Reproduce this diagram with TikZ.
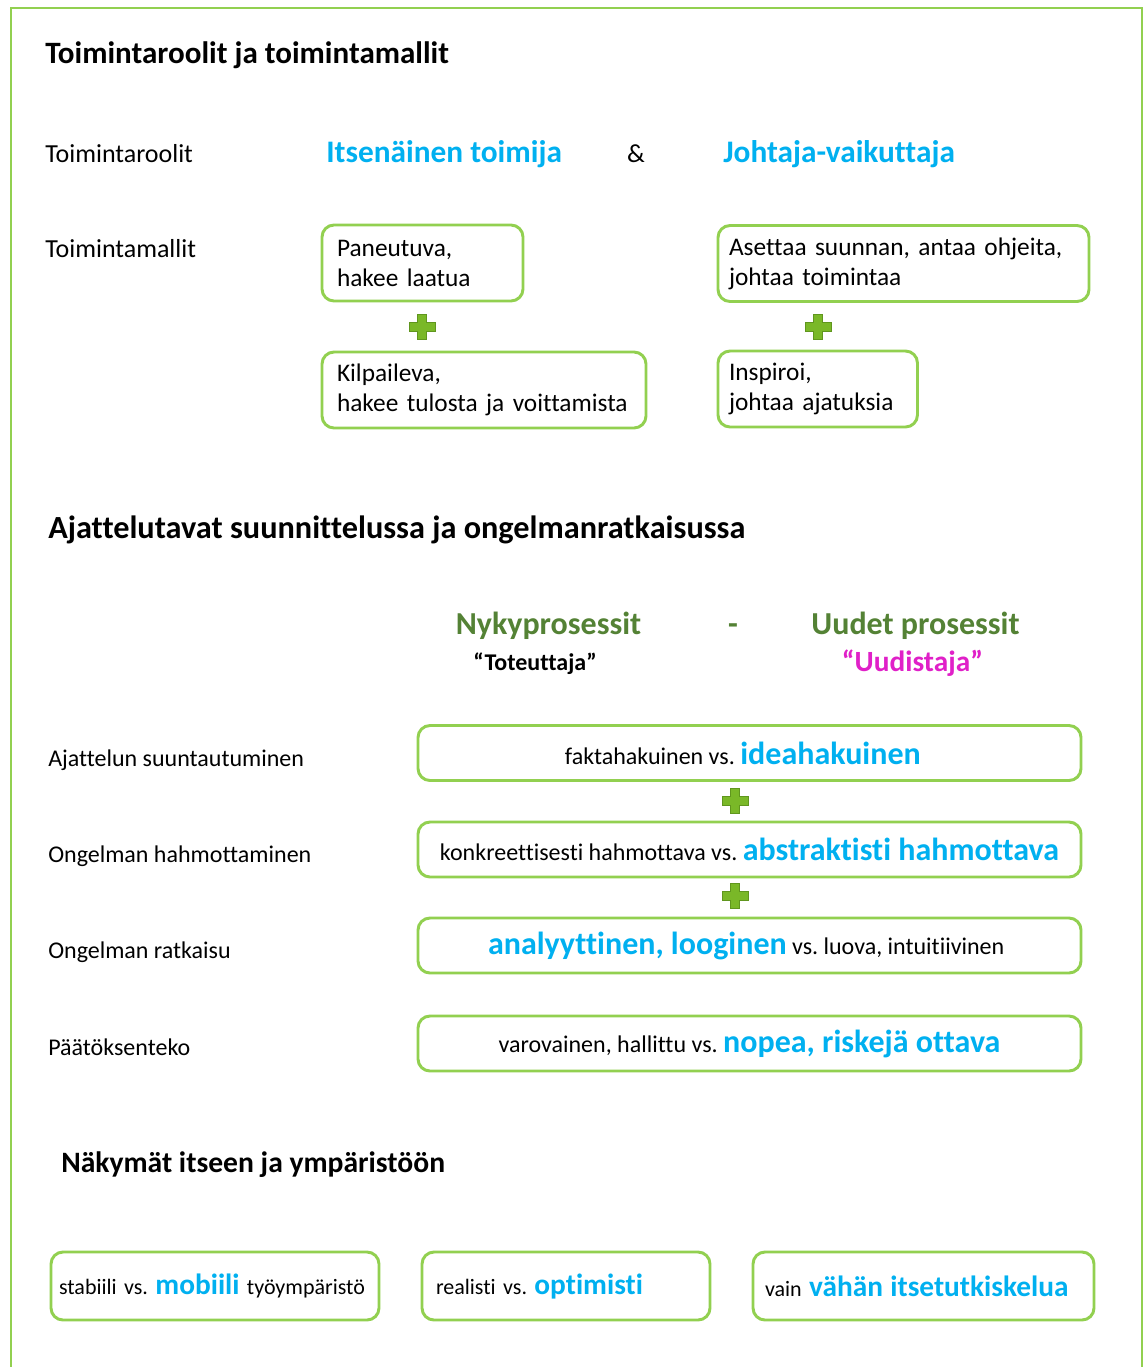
\documentclass[tikz,border=0pt]{standalone}
\usepackage{fontspec}
\setmainfont{Carlito}[Ligatures=NoCommon]
\definecolor{bluec}{RGB}{0,176,240}
\definecolor{lineg}{RGB}{146,208,80}
\definecolor{darkg}{RGB}{84,130,53}
\definecolor{magc}{RGB}{224,32,200}
\definecolor{plusfill}{RGB}{122,184,40}
\definecolor{plusdraw}{RGB}{96,150,30}
\newcommand\setfs[2]{\fontsize{#1}{#2}\selectfont}
\newcommand\bigblue[1]{{\setfs{24}{28}\bfseries\color{bluec}#1}}
\newcommand\midblue[1]{{\setfs{22}{26}\bfseries\color{bluec}#1}}
\tikzset{
  lbl/.style={anchor=base west, inner sep=0pt, font=\setfs{19.5}{23}},
  rowlbl/.style={anchor=base west, inner sep=0pt, font=\setfs{18}{22}},
  ttl/.style={anchor=base west, inner sep=0pt, font=\setfs{23}{28}\bfseries},
  rolelbl/.style={anchor=base west, inner sep=0pt, font=\setfs{23.5}{28}\bfseries, text=bluec},
  prochead/.style={anchor=base, inner sep=0pt, font=\setfs{24}{28}\bfseries, text=darkg},
  quotelbl/.style={anchor=base, inner sep=0pt, font=\setfs{18}{22}\bfseries},
  gbox/.style={draw=lineg, line width=2.2pt, rounded corners=9pt},
  lbox/.style={gbox, align=left, inner ysep=0pt, minimum height=57pt, font=\setfs{19}{22.5}},
  wbox/.style={gbox, minimum width=497.25pt, minimum height=41.25pt, inner sep=0pt, font=\setfs{18}{22}},
  sbox/.style={gbox, align=left, inner ysep=0pt, minimum height=51pt, font=\setfs{16.5}{20}},
  plusmark/.pic={
    \filldraw[fill=plusfill, draw=plusdraw, line width=0.4pt]
      (-4.5,-12.5) -- (4.5,-12.5) -- (4.5,-4.5) -- (13,-4.5) -- (13,4.5) -- (4.5,4.5)
      -- (4.5,12.5) -- (-4.5,12.5) -- (-4.5,4.5) -- (-13,4.5) -- (-13,-4.5) -- (-4.5,-4.5) -- cycle;
  }
}
\begin{document}
\begin{tikzpicture}[x=0.75pt, y=-0.75pt]
\useasboundingbox (0,0) rectangle (1147,1367);
\fill[white] (0,0) rectangle (1147,1367);
% outer frame
\draw[lineg, line width=2.2pt] (11,1367) -- (11,8) -- (1142,8) -- (1142,1367);

% ---- section 1
\node[ttl, font=\setfs{23.3}{28}\bfseries] (t1) at (45,63) {Toimintaroolit ja toimintamallit};
\node[lbl] (rolesl) at (45,162) {Toimintaroolit};
\node[rolelbl] (role1) at (326,162) {Itsenäinen toimija};
\node[anchor=base, inner sep=0pt, font=\setfs{19.5}{23}] (amp) at (636,162) {\&};
\node[rolelbl] (role2) at (723,162) {Johtaja-vaikuttaja};
\node[lbl] (modelsl) at (45,257) {Toimintamallit};

\node[lbox, minimum width=150.75pt, text width=128.25pt, inner xsep=11.25pt] (bA) at (422.5,263)
  {Paneutuva,\\hakee laatua};
\node[lbox, minimum width=243pt, text width=220.5pt, inner xsep=11.25pt] (bB) at (484,390)
  {Kilpaileva,\\\mbox{hakee tulosta ja voittamista}};
\node[lbox, minimum width=278.25pt, text width=261.75pt, inner xsep=8.25pt] (bC) at (903.5,263.5)
  {\mbox{Asettaa suunnan, antaa ohjeita,}\\johtaa toimintaa};
\node[lbox, minimum width=149.6pt, text width=133.1pt, inner xsep=8.25pt] (bD) at (817.75,389)
  {Inspiroi,\\johtaa ajatuksia};
\pic at (422,327) {plusmark};
\pic at (818,327) {plusmark};

% ---- section 2
\node[ttl, font=\setfs{24.2}{28}\bfseries] (t2) at (48,538) {Ajattelutavat suunnittelussa ja ongelmanratkaisussa};
\node[prochead] (nyky) at (548.5,634) {Nykyprosessit};
\node[prochead] (dash) at (733,634) {-};
\node[prochead] (uudet) at (915.5,634) {Uudet prosessit};
\node[quotelbl] (tot) at (535,670) {“Toteuttaja”};
\node[quotelbl, font=\setfs{22}{26}\bfseries, text=magc] (uud) at (912.5,671) {“Uudistaja”};

\node[rowlbl] (r1) at (48,766) {Ajattelun suuntautuminen};
\node[rowlbl] (r2) at (48,862) {Ongelman hahmottaminen};
\node[rowlbl] (r3) at (48,958) {Ongelman ratkaisu};
\node[rowlbl] (r4) at (48,1055) {Päätöksenteko};

\node[wbox] (w1) at (749.5,753) {faktahakuinen vs.\ \bigblue{ideahakuinen}\kern10pt};
\node[wbox] (w2) at (749.5,849.5) {konkreettisesti hahmottava vs.\ \bigblue{abstraktisti hahmottava}};
\node[wbox] (w3) at (749.5,945.5) {\bigblue{analyyttinen, looginen} vs.\ luova, intuitiivinen\kern5pt};
\node[wbox] (w4) at (749.5,1043.5) {varovainen, hallittu vs.\ \bigblue{nopea, riskejä ottava}};
\pic at (735,801) {plusmark};
\pic at (735,896) {plusmark};

% ---- section 3
\node[ttl, font=\setfs{22.2}{27}\bfseries] (t3) at (61,1172) {Näkymät itseen ja ympäristöön};
\node[sbox, minimum width=246pt, text width=234pt, inner xsep=6pt] (s1) at (215,1286)
  {\mbox{stabiili vs.\ \midblue{mobiili} työympäristö}};
\node[sbox, minimum width=216pt, text width=195pt, inner xsep=10.5pt] (s2) at (566,1286)
  {\mbox{realisti vs.\ \midblue{optimisti}}};
\node[sbox, minimum width=255.75pt, text width=237.75pt, inner xsep=9pt] (s3) at (923.5,1286)
  {\mbox{vain \midblue{vähän itsetutkiskelua}}};
\end{tikzpicture}
\end{document}
